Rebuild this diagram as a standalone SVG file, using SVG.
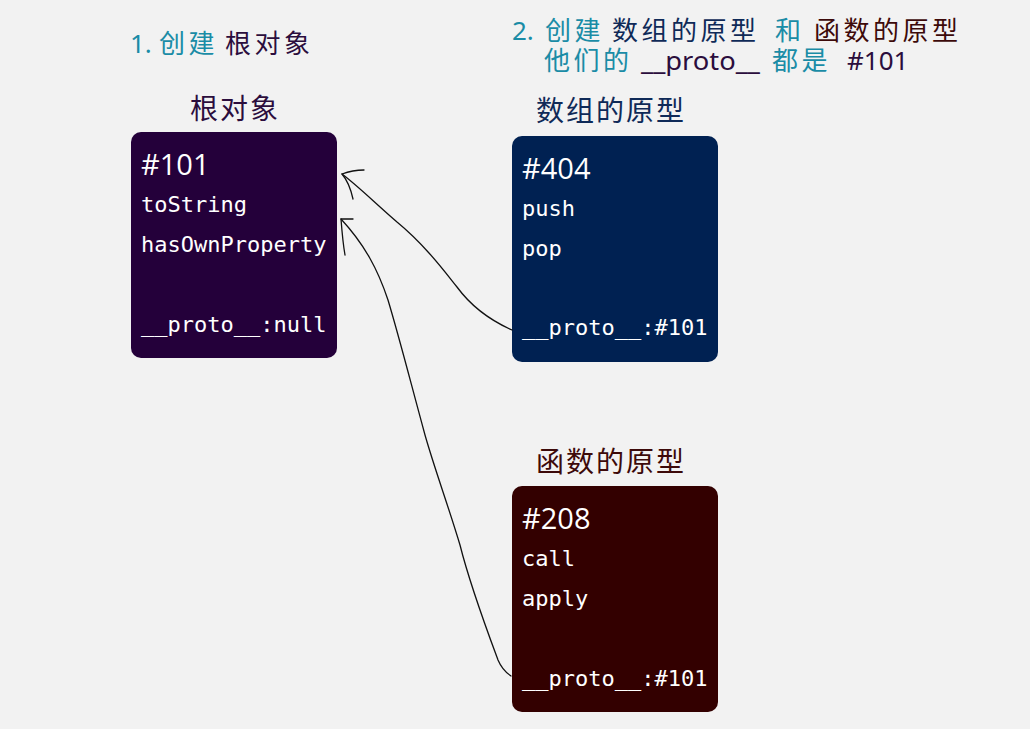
<svg xmlns="http://www.w3.org/2000/svg" width="1030" height="729" viewBox="0 0 1030 729">
<style>
.title{font-family:"Noto Sans CJK SC","Noto Sans",sans-serif;font-size:26px;letter-spacing:3.5px}
.lat{font-family:"Noto Sans","Noto Sans CJK SC",sans-serif;font-size:26px;letter-spacing:0}
.label{font-family:"Noto Sans CJK SC",sans-serif;font-size:28px;letter-spacing:2px}
.teal{fill:#1a8ca6}
.purple{fill:#2b0d3d}
.blue{fill:#0f2a58}
.red{fill:#3d0a0a}
.addr{font-family:"Open Sans","Noto Sans",sans-serif;font-size:29px;fill:#ffffff}
.mono{font-family:"DejaVu Sans Mono","Liberation Mono",monospace;font-size:22px;fill:#ffffff}
.conn{fill:none;stroke:#111111;stroke-width:1.3;stroke-linecap:round}
</style>
<rect width="1030" height="729" fill="#f2f2f2"/>
<g id="title1">
<text class="lat teal" x="130" y="53">1.</text>
<text class="title teal" x="159" y="53">创建</text>
<text class="title purple" x="225" y="53">根对象</text>
</g>
<g id="title2">
<text class="lat teal" x="512" y="40">2.</text>
<text class="title teal" x="545" y="40">创建</text>
<text class="title blue" x="612" y="40">数组的原型</text>
<text class="title teal" x="775" y="40">和</text>
<text class="title red" x="814" y="40">函数的原型</text>
<text class="title teal" x="544" y="70">他们的</text>
<text class="lat purple" x="641" y="70" textLength="119" lengthAdjust="spacingAndGlyphs">__proto__</text>
<text class="title teal" x="772" y="70">都是</text>
<text class="lat purple" x="847" y="70">#101</text>
</g>
<g id="root">
<text class="label purple" x="190" y="119">根对象</text>
<rect x="131" y="132" width="206" height="226" rx="10" fill="#24003a"/>
<text class="addr" x="141" y="175">#101</text>
<text class="mono" x="141" y="212">toString</text>
<text class="mono" x="141" y="252">hasOwnProperty</text>
<text class="mono" x="141" y="332">__proto__:null</text>
</g>
<g id="arrayproto">
<text class="label blue" x="536" y="121">数组的原型</text>
<rect x="512" y="136" width="206" height="226" rx="10" fill="#002152"/>
<text class="addr" x="522" y="179">#404</text>
<text class="mono" x="522" y="216">push</text>
<text class="mono" x="522" y="256">pop</text>
<text class="mono" x="522" y="335">__proto__:#101</text>
</g>
<g id="funcproto">
<text class="label red" x="536" y="472">函数的原型</text>
<rect x="512" y="486" width="206" height="226" rx="10" fill="#330000"/>
<text class="addr" x="522" y="529">#208</text>
<text class="mono" x="522" y="566">call</text>
<text class="mono" x="522" y="606">apply</text>
<text class="mono" x="522" y="686">__proto__:#101</text>
</g>
<g id="connectors">
<path class="conn" d="M512,330 C485,318 468,302 457,287 C445,272 425,245 397,222 C375,203 358,186 342,174"/>
<path class="conn" d="M342,174 C350,171 356,170 364,170 M342,174 C348,181 351,190 353,199"/>
<path class="conn" d="M511,676 C505,672 501,667 498,660 C485,625 470,585 460,545 C448,505 435,470 425,435 C410,380 400,340 388,300 C378,270 365,245 341,219"/>
<path class="conn" d="M341,219 L353,219 M341,219 C342,232 343,244 345,255"/>
</g>
</svg>
